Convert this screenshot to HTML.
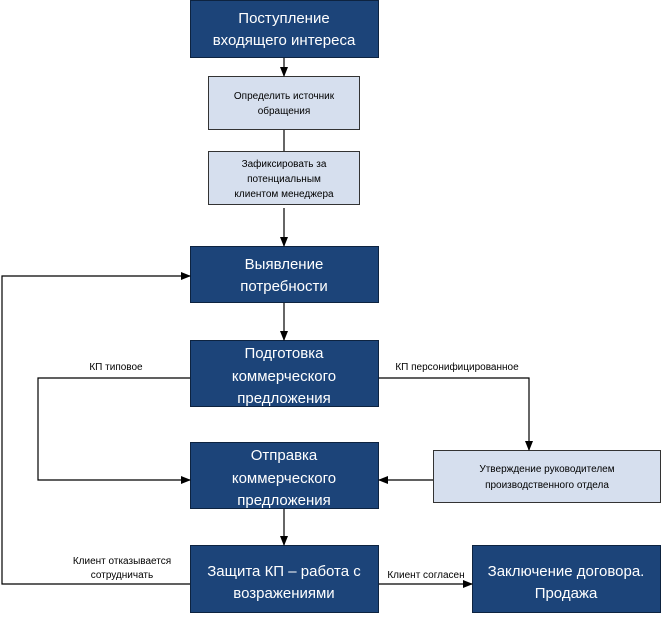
<!DOCTYPE html>
<html><head><meta charset="utf-8"><style>
body{margin:0;background:#fff;width:662px;height:617px;overflow:hidden;font-family:"Liberation Sans","DejaVu Sans",sans-serif}
</style></head><body>
<svg width="662" height="617" xmlns="http://www.w3.org/2000/svg" font-family="Liberation Sans, DejaVu Sans, sans-serif">
<defs><marker id="a" markerWidth="10" markerHeight="8" refX="9" refY="4" orient="auto" markerUnits="userSpaceOnUse"><path d="M0,0 L10,4 L0,8 z" fill="#000"/></marker></defs>
<g fill="#1c4479" stroke="#0d2340" stroke-width="1">
<rect x="190.5" y="0.5" width="188" height="57"/>
<rect x="190.5" y="246.5" width="188" height="56"/>
<rect x="190.5" y="340.5" width="188" height="66"/>
<rect x="190.5" y="442.5" width="188" height="66"/>
<rect x="190.5" y="545.5" width="188" height="67"/>
<rect x="472.5" y="545.5" width="188" height="67"/>
</g>
<g fill="#d6dfee" stroke="#333" stroke-width="1">
<rect x="208.5" y="76.5" width="151" height="53"/>
<rect x="208.5" y="151.5" width="151" height="53"/>
<rect x="433.5" y="450.5" width="227" height="52"/>
</g>
<g stroke="#000" stroke-width="1.2" fill="none">
<line x1="284" y1="58" x2="284" y2="76" marker-end="url(#a)"/>
<line x1="284" y1="130" x2="284" y2="151"/>
<line x1="284" y1="208" x2="284" y2="246" marker-end="url(#a)"/>
<line x1="284" y1="303" x2="284" y2="340" marker-end="url(#a)"/>
<line x1="284" y1="509" x2="284" y2="545" marker-end="url(#a)"/>
<polyline points="190,378 38,378 38,480 190,480" marker-end="url(#a)"/>
<polyline points="379,378 529,378 529,450" marker-end="url(#a)"/>
<line x1="433" y1="480" x2="379" y2="480" marker-end="url(#a)"/>
<polyline points="190,584 2,584 2,276 190,276" marker-end="url(#a)"/>
<line x1="379" y1="584" x2="472" y2="584" marker-end="url(#a)"/>
</g>
<g fill="#fff" font-size="15" text-anchor="middle">
<text x="284" y="23">Поступление</text><text x="284" y="45">входящего интереса</text>
<text x="284" y="269">Выявление</text><text x="284" y="291">потребности</text>
<text x="284" y="358">Подготовка</text><text x="284" y="381">коммерческого</text><text x="284" y="403">предложения</text>
<text x="284" y="460">Отправка</text><text x="284" y="483">коммерческого</text><text x="284" y="505">предложения</text>
<text x="284" y="576">Защита КП – работа с</text><text x="284" y="598">возражениями</text>
<text x="566" y="576">Заключение договора.</text><text x="566" y="598">Продажа</text>
</g>
<g fill="#000" font-size="10" text-anchor="middle">
<text x="284" y="99">Определить источник</text><text x="284" y="114">обращения</text>
<text x="284" y="167">Зафиксировать за</text><text x="284" y="182">потенциальным</text><text x="284" y="197">клиентом менеджера</text>
<text x="547" y="472">Утверждение руководителем</text><text x="547" y="488">производственного отдела</text>
<text x="116" y="370">КП типовое</text>
<text x="457" y="370">КП персонифицированное</text>
<text x="122" y="564">Клиент отказывается</text><text x="122" y="578">сотрудничать</text>
<text x="426" y="578">Клиент согласен</text>
</g>
</svg>
</body></html>
